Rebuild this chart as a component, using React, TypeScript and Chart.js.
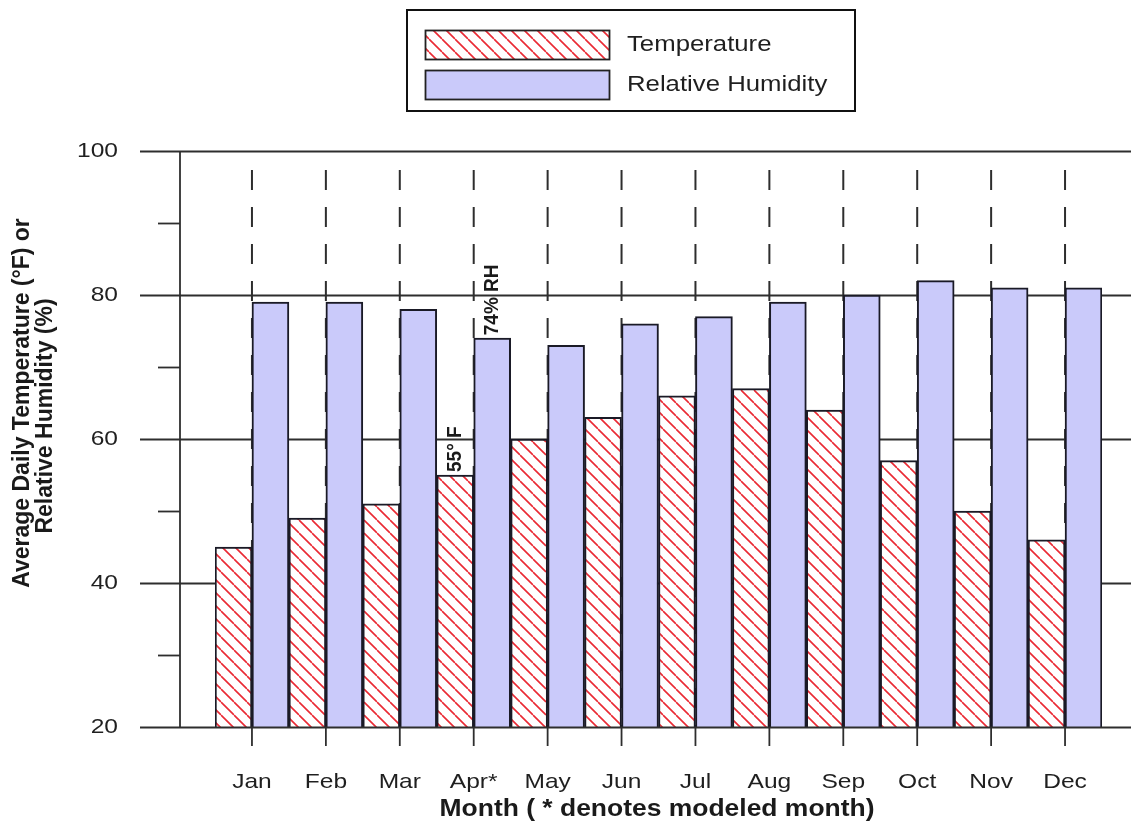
import React, { useEffect, useRef } from 'react';
import { Chart, registerables } from 'chart.js';

Chart.register(...registerables);

const months = ['Jan', 'Feb', 'Mar', 'Apr*', 'May', 'Jun', 'Jul', 'Aug', 'Sep', 'Oct', 'Nov', 'Dec'];
const temperature = [45, 49, 51, 55, 60, 63, 66, 67, 64, 57, 50, 46];
const humidity = [79, 79, 78, 74, 73, 76, 77, 79, 80, 82, 81, 81];
const yMajorTicks = [20, 40, 60, 80, 100];
const yMinorTicks = [30, 50, 70, 90];
const seriesLabels = ['Temperature', 'Relative Humidity'];
const annotations = [
  { datasetIndex: 0, index: 3, text: '55° F' },
  { datasetIndex: 1, index: 3, text: '74% RH' },
];
const yTitleLines = ['Average Daily Temperature (°F) or', 'Relative Humidity (%)'];
const xTitle = 'Month ( * denotes modeled month)';

const W = 1131;
const H = 827;
const AXIS_X = 180;
const SX = 1.17;
const FONT = 'Arial, "Liberation Sans", sans-serif';
const HUM_COLOR = 'rgb(202,202,250)';
const RED = '#ea2a34';
const INK = '#1f1f1f';
const LINE = '#2e2e2e';

function makeHatch(): CanvasPattern | string {
  const s = 13;
  const c = document.createElement('canvas');
  c.width = s;
  c.height = s;
  const g = c.getContext('2d');
  if (!g) return '#fff';
  g.fillStyle = '#ffffff';
  g.fillRect(0, 0, s, s);
  g.strokeStyle = RED;
  g.lineWidth = 1.6;
  g.beginPath();
  for (let k = -1; k <= 1; k++) {
    g.moveTo(0, k * s);
    g.lineTo(s, s + k * s);
  }
  g.stroke();
  const p = g.createPattern(c, 'repeat');
  return p || '#fff';
}

function txt(
  ctx: CanvasRenderingContext2D,
  s: string,
  x: number,
  y: number,
  font: string,
  align: CanvasTextAlign,
  rot = false,
  sx = SX,
  color = INK
) {
  ctx.save();
  ctx.translate(x, y);
  ctx.scale(sx, 1);
  if (rot) ctx.rotate(-Math.PI / 2);
  ctx.font = font;
  ctx.fillStyle = color;
  ctx.textAlign = align;
  ctx.textBaseline = 'middle';
  ctx.fillText(s, 0, 0);
  ctx.restore();
}

function hline(ctx: CanvasRenderingContext2D, x1: number, x2: number, y: number) {
  ctx.beginPath();
  ctx.moveTo(x1, y);
  ctx.lineTo(x2, y);
  ctx.stroke();
}

function vline(ctx: CanvasRenderingContext2D, x: number, y1: number, y2: number) {
  ctx.beginPath();
  ctx.moveTo(x, y1);
  ctx.lineTo(x, y2);
  ctx.stroke();
}

export default function App() {
  const ref = useRef<HTMLCanvasElement | null>(null);

  useEffect(() => {
    const canvas = ref.current;
    if (!canvas) return;
    const hatch = makeHatch();

    const axesPlugin = {
      id: 'customAxes',
      beforeDatasetsDraw(chart: any) {
        const ctx: CanvasRenderingContext2D = chart.ctx;
        const { top, bottom } = chart.chartArea;
        const ys = chart.scales.y;
        const xs = chart.scales.x;
        ctx.save();
        ctx.strokeStyle = LINE;
        ctx.lineWidth = 1.8;
        yMajorTicks.forEach((v) => {
          if (v === yMajorTicks[0]) return;
          hline(ctx, AXIS_X - 40, chart.width, Math.round(ys.getPixelForValue(v)) + 0.5);
        });
        yMinorTicks.forEach((v) => {
          hline(ctx, AXIS_X - 22, AXIS_X, Math.round(ys.getPixelForValue(v)) + 0.5);
        });
        vline(ctx, AXIS_X, top, bottom);
        ctx.lineWidth = 2;
        ctx.setLineDash([20, 17]);
        months.forEach((_, i) => {
          const px = xs.getPixelForValue(i);
          vline(ctx, px, top + 19, bottom);
        });
        ctx.restore();
      },
      afterDatasetsDraw(chart: any) {
        const ctx: CanvasRenderingContext2D = chart.ctx;
        const { bottom } = chart.chartArea;
        const ys = chart.scales.y;
        const xs = chart.scales.x;
        ctx.save();
        ctx.strokeStyle = LINE;
        ctx.lineWidth = 1.8;
        hline(ctx, AXIS_X - 40, chart.width, Math.round(bottom) + 0.5);
        months.forEach((m, i) => {
          const px = xs.getPixelForValue(i);
          vline(ctx, px, bottom, bottom + 19);
          txt(ctx, m, px, 782, `21px ${FONT}`, 'center');
        });
        yMajorTicks.forEach((v) => {
          txt(ctx, String(v), 118, ys.getPixelForValue(v), `21px ${FONT}`, 'right');
        });
        txt(ctx, yTitleLines[0], 23, 403, `bold 23px ${FONT}`, 'center', true, 1, '#1a1a1a');
        txt(ctx, yTitleLines[1], 46, 416, `bold 23px ${FONT}`, 'center', true, 1, '#1a1a1a');
        txt(ctx, xTitle, 657, 810, `bold 23px ${FONT}`, 'center', false, 1.15, '#1a1a1a');

        annotations.forEach((a) => {
          const el = chart.getDatasetMeta(a.datasetIndex).data[a.index];
          txt(ctx, a.text, el.x, el.y - 3, `bold 19px ${FONT}`, 'left', true, 1.05, '#1a1a1a');
        });

        // legend
        ctx.lineWidth = 2;
        ctx.strokeStyle = '#111';
        ctx.fillStyle = '#ffffff';
        ctx.fillRect(407, 10, 448, 101);
        ctx.strokeRect(407, 10, 448, 101);
        const sw = [
          { y: 30, fill: hatch },
          { y: 70, fill: HUM_COLOR },
        ];
        sw.forEach((s, i) => {
          ctx.fillStyle = s.fill as any;
          ctx.fillRect(425, s.y, 184, 29);
          ctx.lineWidth = 1.8;
          ctx.strokeStyle = '#222';
          ctx.strokeRect(425.5, s.y + 0.5, 184, 29);
          txt(ctx, chart.data.datasets[i].label, 627, s.y + 15, `22px ${FONT}`, 'left');
        });
        ctx.restore();
      },
    };

    const chart = new Chart(canvas, {
      type: 'bar',
      data: {
        labels: months,
        datasets: [
          {
            label: seriesLabels[0],
            data: temperature,
            backgroundColor: hatch as any,
            borderColor: '#1a1a26',
            borderWidth: 2,
            borderSkipped: 'start',
          },
          {
            label: seriesLabels[1],
            data: humidity,
            backgroundColor: HUM_COLOR,
            borderColor: '#1a1a26',
            borderWidth: 2,
            borderSkipped: 'start',
          },
        ],
      },
      options: {
        responsive: false,
        animation: false,
        devicePixelRatio: 1,
        layout: { padding: { left: 215, right: 29, top: 151, bottom: 100 } },
        datasets: { bar: { categoryPercentage: 1, barPercentage: 1 } },
        plugins: {
          legend: { display: false },
          tooltip: { enabled: false },
          title: { display: false },
        },
        scales: {
          x: { type: 'category', display: false, offset: true },
          y: { type: 'linear', display: false, min: 20, max: 100 },
        },
      },
      plugins: [axesPlugin],
    });

    return () => chart.destroy();
  }, []);

  return (
    <div style={{ position: 'fixed', left: 0, top: 0, width: W, height: H, background: '#fff' }}>
      <canvas ref={ref} width={W} height={H} style={{ display: 'block' }} />
    </div>
  );
}
